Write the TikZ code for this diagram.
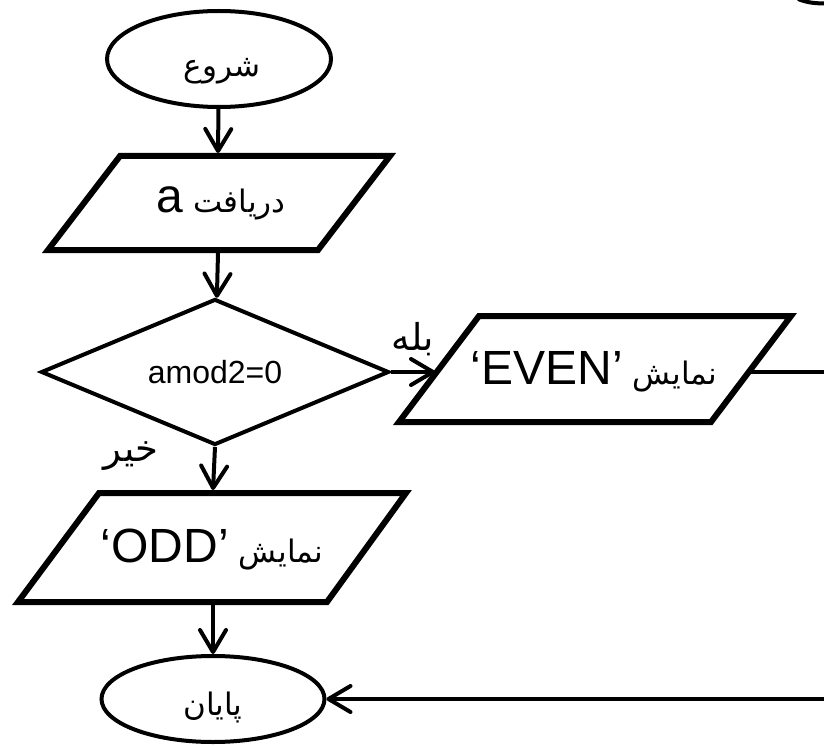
\documentclass[tikz,border=0pt]{standalone}
\usepackage{fontspec}
\setmainfont{Liberation Sans}
\newfontfamily\fa[Script=Arabic]{DejaVu Sans}
\TeXXeTstate=1
\usetikzlibrary{shapes.geometric,arrows.meta}

% Persian words, set right to left
\newcommand\fatxt[1]{{\fa\fontsize{31}{36}\selectfont\beginR #1\endR}}
\newcommand\falbl[1]{{\fa\fontsize{37}{42}\selectfont\beginR #1\endR}}

\begin{document}
\begin{tikzpicture}[x=1pt,y=-1pt,
  every node/.style={inner sep=0pt},
  terminal/.style={ellipse, draw, line width=4pt,
    minimum width=224pt, minimum height=96pt},
  iobox/.style={draw, line width=6pt, line join=miter},
  decision/.style={diamond, draw, line width=4pt, aspect=2.35,
    minimum width=348pt, minimum height=146pt},
  bigtext/.style={font=\fontsize{48}{56}\selectfont},
  flow/.style={line width=4pt, -{Straight Barb[length=22pt,width=26pt,round]}},
  plain/.style={line width=4pt}
]
\clip (0,0) rectangle (824,746);
\useasboundingbox (0,0) rectangle (824,746);

% start and end terminals
\node[terminal] (start) at (219,59) {};
\node (starttext) at (222,71) {\fatxt{شروع}};
\node[terminal, minimum width=223pt, minimum height=86pt] (stop) at (213,699) {};
\node (stoptext) at (213,708) {\fatxt{پایان}};

% input: read a
\draw[iobox] (120,156) -- (390,156) -- (318,250) -- (48,250) -- cycle;
\node[bigtext] (input) at (221,203) {a\hspace{10pt}\fatxt{دریافت}};
\coordinate (input-n) at (218,153);
\coordinate (input-s) at (218,253);

% test
\node[decision] (test) at (215,372) {\fontsize{32}{38}\selectfont amod2=0};

% output EVEN
\draw[iobox] (479,316) -- (791,316) -- (711,422) -- (399,422) -- cycle;
\node[bigtext] (even) at (594,372) {‘EVEN’\hspace{10pt}\fatxt{نمایش}};
\coordinate (even-w) at (435,372);
\coordinate (even-e) at (751,372);

% output ODD
\draw[iobox] (99,493) -- (406,493) -- (327,602) -- (18,602) -- cycle;
\node[bigtext] (odd) at (212,550) {‘ODD’\hspace{10pt}\fatxt{نمایش}};
\coordinate (odd-n) at (213,490);
\coordinate (odd-s) at (213,605);

% branch labels
\node (yes) at (413,339) {\falbl{بله}};
\node (no) at (131,456) {\falbl{خیر}};

% off-page ends of the EVEN branch
\coordinate (evenout) at (830,372);
\coordinate (evenin) at (830,699);

% connectors
\draw[flow] (start) -- (input-n);
\draw[flow] (input-s) -- (test);
\draw[flow] (test.east) -- (even-w);
\draw[flow] (test.south) -- (odd-n);
\draw[flow] (odd-s) -- (stop.north);
\draw[plain] (even-e) -- (evenout);
\draw[flow] (evenin) -- (stop.east);

% partial shape at the top edge
\draw[line width=4pt] (798,-1) .. controls (808,3) and (818,4) .. (830,3);
\end{tikzpicture}
\end{document}
